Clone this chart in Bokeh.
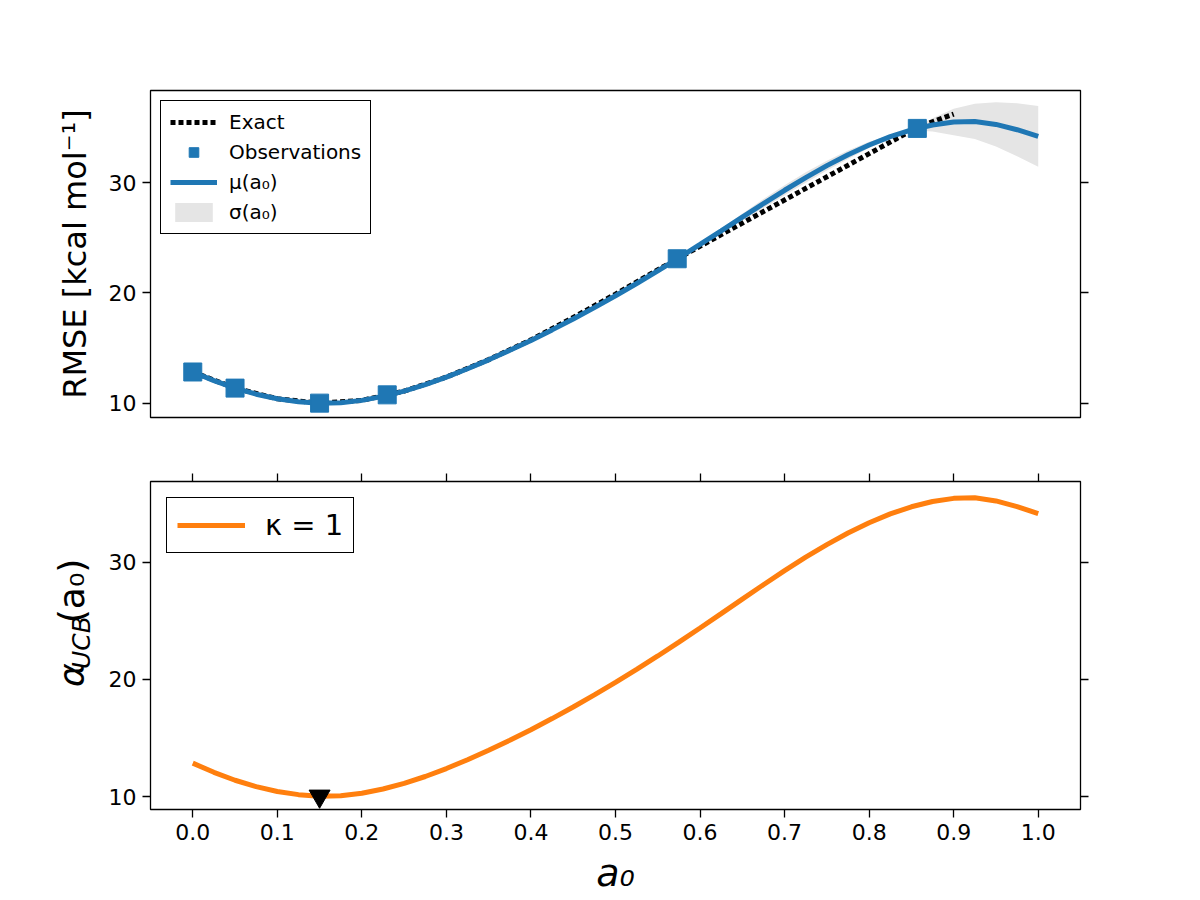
import math

from bokeh.embed import file_html
from bokeh.layouts import column, row
from bokeh.models import (ColumnDataSource, CustomJSTickFormatter, FixedTicker,
                          Label, Legend, LegendItem, LinearAxis,
                          NumeralTickFormatter, Range1d)
from bokeh.plotting import figure
from bokeh.resources import INLINE

FONT = "DejaVu Sans"
BLUE = "#1f77b4"
ORANGE = "#ff7f0e"

# ---- data -----------------------------------------------------------------
# evaluation grid for the surrogate model
a0_grid = [0.000, 0.025, 0.050, 0.075, 0.100, 0.125, 0.150, 0.175, 0.200,
           0.225, 0.250, 0.275, 0.300, 0.325, 0.350, 0.375, 0.400, 0.425,
           0.450, 0.475, 0.500, 0.525, 0.550, 0.575, 0.600, 0.625, 0.650,
           0.675, 0.700, 0.725, 0.750, 0.775, 0.800, 0.825, 0.850, 0.875,
           0.900, 0.925, 0.950, 0.975, 1.000]

# GP posterior mean and standard deviation
mu = [12.85, 12.07, 11.39, 10.84, 10.43, 10.16, 10.03, 10.07, 10.28,
      10.64, 11.12, 11.71, 12.39, 13.14, 13.95, 14.81, 15.71, 16.66,
      17.65, 18.68, 19.75, 20.86, 22.01, 23.19, 24.40, 25.63, 26.87,
      28.10, 29.30, 30.45, 31.53, 32.52, 33.40, 34.15, 34.76, 35.21,
      35.48, 35.53, 35.26, 34.78, 34.18]
sigma = [0.00, 0.03, 0.00, 0.03, 0.04, 0.03, 0.00, 0.03, 0.04,
         0.01, 0.04, 0.08, 0.12, 0.15, 0.17, 0.18, 0.18, 0.17,
         0.15, 0.12, 0.09, 0.05, 0.02, 0.00, 0.10, 0.20, 0.30,
         0.40, 0.45, 0.47, 0.45, 0.38, 0.28, 0.15, 0.03, 0.60,
         1.20, 1.60, 2.00, 2.40, 2.75]

# acquisition function (kappa = 1)
ucb = [12.85, 12.07, 11.39, 10.84, 10.43, 10.16, 10.03, 10.07, 10.28,
       10.64, 11.12, 11.71, 12.39, 13.14, 13.95, 14.81, 15.71, 16.66,
       17.65, 18.68, 19.75, 20.86, 22.01, 23.19, 24.40, 25.63, 26.87,
       28.10, 29.30, 30.45, 31.53, 32.52, 33.40, 34.15, 34.76, 35.21,
       35.48, 35.53, 35.26, 34.78, 34.18]

# reference curve
exact_a0 = [0.00, 0.05, 0.10, 0.15, 0.20, 0.25, 0.30, 0.35, 0.40, 0.45,
            0.50, 0.573, 0.857, 0.90]
exact_rmse = [12.85, 11.39, 10.43, 10.03, 10.28, 11.12, 12.39, 13.97, 15.76,
              17.78, 19.90, 23.10, 35.00, 36.20]

# sampled points
obs_a0 = [0.00, 0.05, 0.15, 0.23, 0.573, 0.857]
obs_rmse = [12.85, 11.39, 10.03, 10.78, 23.10, 34.90]

# next point suggested by the acquisition function
next_a0 = 0.15

x_ticks = [0.0, 0.1, 0.2, 0.3, 0.4, 0.5, 0.6, 0.7, 0.8, 0.9, 1.0]
y_ticks = [10, 20, 30]

# ---- helpers --------------------------------------------------------------
empty_fmt = CustomJSTickFormatter(code="return ''")


def style_axis(ax, ticks, fmt=None, labels=True):
    ax.ticker = FixedTicker(ticks=ticks)
    if fmt is not None:
        ax.formatter = fmt
    ax.axis_line_color = None
    ax.major_tick_in = 0
    ax.major_tick_out = 8
    ax.minor_tick_in = 0
    ax.minor_tick_out = 0
    ax.major_tick_line_color = "black"
    ax.major_tick_line_width = 1.3
    ax.major_label_text_font = FONT
    ax.major_label_text_color = "black"
    if labels:
        ax.major_label_text_font_size = "22px"
        ax.major_label_standoff = 6
    else:
        ax.formatter = empty_fmt
        ax.major_label_text_font_size = "1px"
        ax.major_label_standoff = 0


def make_fig(width, height, left, top, bottom, y_lo, y_hi):
    p = figure(width=width, height=height,
               x_range=Range1d(-0.05, 1.05), y_range=Range1d(y_lo, y_hi),
               output_backend="svg", toolbar_location=None,
               min_border_left=left, min_border_right=120,
               min_border_top=top, min_border_bottom=bottom)
    p.grid.visible = False
    p.outline_line_color = "black"
    p.outline_line_width = 1.3
    p.outline_line_alpha = 1.0
    p.background_fill_color = "white"
    p.border_fill_color = "white"
    return p


# ---- upper panel: GP surrogate ---------------------------------------------
p1 = make_fig(1200, 450, 150, 90, 33, 8.73, 38.33)
p1.xaxis.visible = False
style_axis(p1.yaxis[0], y_ticks)
p1.yaxis[0].axis_label = "RMSE [kcal mol\u207b\u00b9]"
p1.yaxis[0].axis_label_text_font = FONT
p1.yaxis[0].axis_label_text_font_size = "32px"
p1.yaxis[0].axis_label_text_font_style = "normal"
p1.yaxis[0].axis_label_text_color = "black"
p1.yaxis[0].axis_label_standoff = 12
right1 = LinearAxis()
style_axis(right1, y_ticks, labels=False)
p1.add_layout(right1, "right")

gp = ColumnDataSource(dict(
    a0=a0_grid, mu=mu,
    lo=[m - s for m, s in zip(mu, sigma)],
    hi=[m + s for m, s in zip(mu, sigma)],
))
r_band = p1.varea(x="a0", y1="lo", y2="hi", source=gp,
                  fill_color="#e5e5e5", fill_alpha=1.0)
r_exact = p1.line(exact_a0, exact_rmse, line_color="black", line_width=5,
                  line_dash="5 3")
r_mu = p1.line(x="a0", y="mu", source=gp, line_color=BLUE, line_width=5)
r_obs = p1.scatter(obs_a0, obs_rmse, marker="square", size=18,
                   fill_color=BLUE, line_color=BLUE)

leg1 = Legend(items=[
    LegendItem(label="Exact", renderers=[r_exact]),
    LegendItem(label="Observations", renderers=[r_obs]),
    LegendItem(label="\u03bc(a\u2080)", renderers=[r_mu]),
    LegendItem(label="\u03c3(a\u2080)", renderers=[r_band]),
], location="top_left")
leg1.label_text_font = FONT
leg1.label_text_font_size = "20px"
leg1.label_text_color = "black"
leg1.border_line_color = "black"
leg1.border_line_width = 1.3
leg1.border_line_alpha = 1.0
leg1.background_fill_alpha = 1.0
leg1.padding = 9
leg1.spacing = 6
leg1.margin = 10
leg1.glyph_width = 47
leg1.glyph_height = 24
leg1.label_height = 24
leg1.label_standoff = 12
p1.add_layout(leg1)

# ---- lower panel: acquisition function -------------------------------------
p2 = make_fig(1100, 450, 50, 31, 91, 8.89, 36.92)
style_axis(p2.xaxis[0], x_ticks, NumeralTickFormatter(format="0.0"))
p2.xaxis[0].axis_label = "a\u2080"
p2.xaxis[0].axis_label_text_font = FONT
p2.xaxis[0].axis_label_text_font_size = "38px"
p2.xaxis[0].axis_label_text_font_style = "italic"
p2.xaxis[0].axis_label_text_color = "black"
p2.xaxis[0].axis_label_standoff = 8
style_axis(p2.yaxis[0], y_ticks)
top2 = LinearAxis()
style_axis(top2, x_ticks, labels=False)
p2.add_layout(top2, "above")
right2 = LinearAxis()
style_axis(right2, y_ticks, labels=False)
p2.add_layout(right2, "right")

r_ucb = p2.line(a0_grid, ucb, line_color=ORANGE, line_width=5)
i_next = a0_grid.index(next_a0)
p2.scatter([next_a0], [ucb[i_next]], marker="inverted_triangle", size=21,
           fill_color="black", line_color="black")

leg2 = Legend(items=[LegendItem(label="\u03ba = 1", renderers=[r_ucb])],
              location="top_left")
leg2.label_text_font = FONT
leg2.label_text_font_size = "29px"
leg2.label_text_color = "black"
leg2.border_line_color = "black"
leg2.border_line_width = 1.3
leg2.border_line_alpha = 1.0
leg2.background_fill_alpha = 1.0
leg2.padding = 10
leg2.margin = 16
leg2.glyph_width = 68
leg2.glyph_height = 30
leg2.label_height = 34
leg2.label_standoff = 20
p2.add_layout(leg2)

# ---- y-axis title of the lower panel: alpha_UCB(a0) -------------------------
# a narrow strip left of the lower panel; one data unit is one pixel,
# measured from the strip's bottom-left corner
title_strip = figure(width=100, height=450, x_range=Range1d(0, 100),
                     y_range=Range1d(0, 450), output_backend="svg",
                     toolbar_location=None, x_axis_type=None,
                     y_axis_type=None, title=None, min_border_left=0,
                     min_border_right=0, min_border_top=0,
                     min_border_bottom=0)
title_strip.outline_line_color = None
title_strip.background_fill_color = "white"
title_strip.border_fill_color = "white"

big, small = 36, 25
# (text, font size, style, advance in em, gap after it in px)
pieces = [("\u03b1", big, "italic", 0.659, 1.0),
          ("UCB", small, "italic", 2.116, 10.0),
          ("(a\u2080)", big, "normal", 1.79, 0.0)]
along = 168.0  # distance of the title's start above the strip's bottom edge
for txt, size, style, adv, gap in pieces:
    # bottom of the text box = baseline + font descent
    base_x = (83 if size == big else 90) + 0.236 * size
    title_strip.add_layout(Label(x=base_x, y=along, text=txt,
                                 angle=math.pi / 2, text_font=FONT,
                                 text_font_size=f"{size}px",
                                 text_font_style=style, text_color="black",
                                 text_align="left", text_baseline="bottom"))
    along += adv * size + gap

layout = column(p1, row(title_strip, p2, spacing=0), spacing=0)
open("out.html", "w").write(file_html(layout, INLINE))
